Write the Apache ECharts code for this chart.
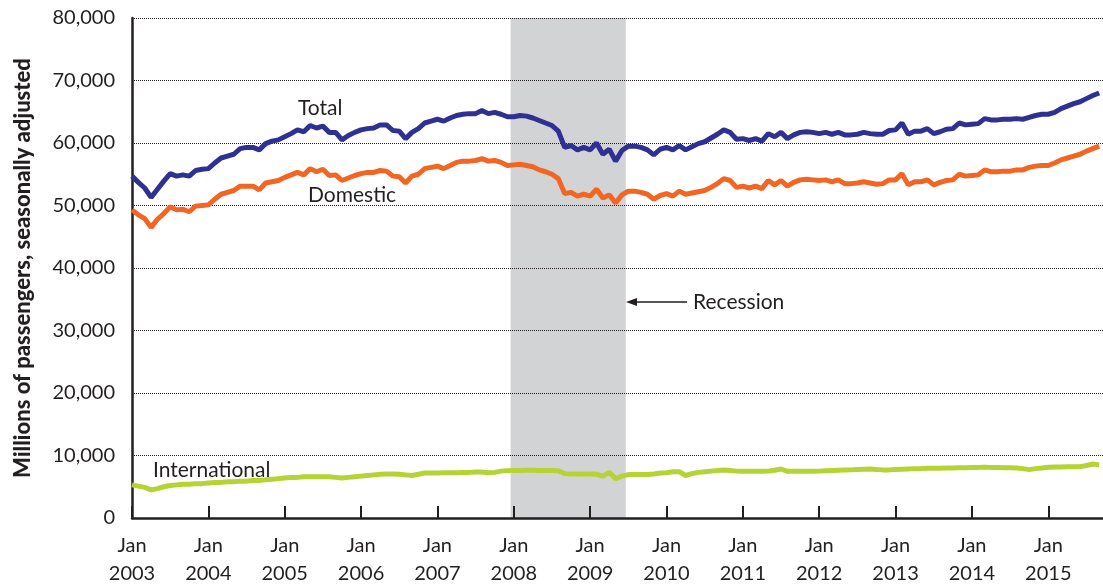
<!DOCTYPE html>
<html>
<head>
<meta charset="utf-8">
<script src="https://cdn.jsdelivr.net/npm/echarts@6/dist/echarts.min.js"></script>
<style>
  html, body { margin: 0; padding: 0; background: #fff; }
  #chart { width: 1103px; height: 588px; }
</style>
</head>
<body>
<div id="chart"></div>
<script>
// month index 0 = Jan 2003, one value per month (millions of passengers, SA)
var yearTicks = ['2003', '2004', '2005', '2006', '2007', '2008', '2009', '2010', '2011', '2012', '2013', '2014', '2015'];
var recession = [59.5, 77.6]; // Dec 2007 - Jun 2009

var total = [
  54700, 53700, 52800, 51300, 52600, 53900, 55100, 54700, 54900, 54700, 55600, 55800,
  55900, 56800, 57600, 57900, 58200, 59100, 59300, 59300, 58900, 59900, 60300, 60500,
  61000, 61500, 62100, 61800, 62800, 62400, 62700, 61700, 61700, 60500, 61200, 61700,
  62100, 62300, 62400, 62900, 62900, 62000, 61900, 60700, 61700, 62300, 63200, 63500,
  63800, 63500, 64000, 64400, 64600, 64700, 64700, 65200, 64700, 64900, 64600, 64200,
  64200, 64400, 64300, 64000, 63600, 63200, 62800, 61900, 59300, 59600, 58900, 59300,
  58900, 60000, 58200, 59000, 57100, 58800, 59500, 59500, 59300, 58900, 58100, 59000,
  59300, 58900, 59600, 58900, 59400, 59900, 60200, 60800, 61400, 62100, 61700, 60600,
  60700, 60400, 60700, 60300, 61500, 61000, 61700, 60700, 61300, 61700, 61800, 61700,
  61500, 61700, 61400, 61700, 61300, 61300, 61400, 61700, 61500, 61400, 61400, 62000,
  62100, 63200, 61400, 61900, 61900, 62300, 61500, 61800, 62200, 62300, 63200, 62900,
  63000, 63100, 63900, 63700, 63700, 63800, 63800, 63900, 63800, 64100, 64400, 64600,
  64600, 64900, 65500, 65900, 66300, 66600, 67100, 67600, 68000
];

var domestic = [
  49300, 48500, 47900, 46500, 47800, 48700, 49800, 49300, 49400, 49000, 49900, 50000,
  50100, 51000, 51800, 52100, 52400, 53100, 53100, 53100, 52500, 53600, 53800, 54000,
  54500, 54900, 55300, 54900, 55900, 55400, 55800, 54800, 54900, 54000, 54400, 54800,
  55100, 55300, 55300, 55600, 55500, 54700, 54600, 53600, 54700, 55000, 55900, 56100,
  56300, 55900, 56400, 56900, 57100, 57100, 57200, 57500, 57100, 57200, 56900, 56400,
  56500, 56600, 56400, 56200, 55700, 55400, 55000, 54300, 51900, 52100, 51500, 51800,
  51500, 52600, 51200, 51700, 50400, 51700, 52300, 52300, 52100, 51800, 51000, 51600,
  51900, 51500, 52300, 51800, 52000, 52200, 52400, 52900, 53500, 54300, 54000, 52900,
  53100, 52800, 53100, 52700, 54000, 53300, 54000, 53100, 53700, 54100, 54200, 54100,
  54000, 54100, 53800, 54100, 53500, 53500, 53600, 53800, 53600, 53400, 53500, 54100,
  54100, 55100, 53300, 53800, 53800, 54100, 53300, 53700, 54000, 54100, 55000, 54700,
  54800, 54900, 55700, 55400, 55400, 55500, 55500, 55700, 55700, 56100, 56300, 56400,
  56400, 56800, 57300, 57600, 57900, 58200, 58700, 59100, 59500
];

var international = [
  5300, 5100, 4900, 4500, 4700, 5000, 5200, 5300, 5400, 5400, 5500, 5500,
  5600, 5700, 5700, 5800, 5800, 5900, 5900, 6000, 6000, 6100, 6200, 6300,
  6400, 6500, 6500, 6600, 6600, 6600, 6600, 6600, 6500, 6400, 6500, 6600,
  6700, 6800, 6900, 7000, 7050, 7050, 7000, 6900, 6800, 7000, 7200, 7200,
  7200, 7250, 7250, 7250, 7300, 7300, 7350, 7350, 7250, 7300, 7500, 7580,
  7600, 7600, 7650, 7650, 7600, 7600, 7600, 7550, 7100, 7050, 7050, 7050,
  7050, 7000, 6700, 7300, 6300, 6700, 6950, 6950, 6950, 6950, 7050, 7200,
  7250, 7400, 7420, 6800, 7100, 7300, 7400, 7500, 7600, 7680, 7600, 7500,
  7470, 7470, 7470, 7470, 7500, 7650, 7840, 7470, 7470, 7470, 7470, 7470,
  7500, 7550, 7600, 7650, 7680, 7700, 7750, 7800, 7840, 7750, 7700, 7700,
  7750, 7800, 7850, 7900, 7900, 7950, 7950, 7950, 8000, 8000, 8050, 8050,
  8100, 8100, 8110, 8100, 8100, 8050, 8050, 8000, 7900, 7740, 7900, 8000,
  8110, 8150, 8150, 8200, 8200, 8220, 8400, 8640, 8500
];

function pairs(arr) {
  return arr.map(function (v, i) { return [i, v]; });
}

var ink = '#231f20';
var font = 'Lato';

var chart = echarts.init(document.getElementById('chart'));

function note(text, x, y) {
  return {
    type: 'text', x: x, y: y,
    style: { text: text, font: '21px ' + font, fill: ink, verticalAlign: 'middle' }
  };
}

var option = {
  animation: false,
  textStyle: { fontFamily: font, color: ink },
  grid: { left: 132, right: 0, top: 18, bottom: 67 },
  xAxis: {
    type: 'value',
    min: 0,
    max: 152.6,
    interval: 12,
    z: 2,
    axisLine: { lineStyle: { color: ink, width: 2.5 } },
    axisTick: { inside: true, length: 12, lineStyle: { color: ink, width: 2 } },
    splitLine: { show: false },
    axisLabel: {
      showMaxLabel: false,
      margin: 14,
      fontSize: 20,
      lineHeight: 28,
      color: ink,
      fontFamily: font,
      formatter: function (v) {
        var y = yearTicks[Math.round(v / 12)];
        return y ? 'Jan\n' + y : '';
      }
    }
  },
  yAxis: {
    type: 'value',
    min: 0,
    max: 80000,
    interval: 10000,
    z: 2,
    name: 'Millions of passengers, seasonally adjusted',
    nameLocation: 'middle',
    nameGap: 98,
    nameTextStyle: { fontSize: 22, fontWeight: 900, color: ink, fontFamily: font },
    axisLine: { show: true, lineStyle: { color: ink, width: 2.5 } },
    axisTick: { show: false },
    splitLine: { lineStyle: { color: ink, type: 'dotted', width: 1 } },
    axisLabel: {
      margin: 17,
      fontSize: 20,
      color: ink,
      fontFamily: font,
      formatter: function (v) { return v.toLocaleString('en-US'); }
    }
  },
  series: [
    {
      name: 'Total',
      type: 'line',
      z: 3,
      data: pairs(total),
      symbol: 'none',
      lineStyle: { color: '#2e3192', width: 5 },
      markArea: {
        silent: true,
        itemStyle: { color: '#d1d3d4' },
        data: [[{ xAxis: recession[0] }, { xAxis: recession[1] }]]
      }
    },
    {
      name: 'Domestic',
      type: 'line',
      z: 3,
      data: pairs(domestic),
      symbol: 'none',
      lineStyle: { color: '#f26522', width: 5 }
    },
    {
      name: 'International',
      type: 'line',
      z: 3,
      data: pairs(international),
      symbol: 'none',
      lineStyle: { color: '#b5d334', width: 5 }
    }
  ],
  graphic: [
    note('Total', 298, 108),
    note('Domestic', 308, 195),
    note('International', 153, 470),
    note('Recession', 693, 302),
    { type: 'line', shape: { x1: 634, y1: 302, x2: 687, y2: 302 }, style: { stroke: ink, lineWidth: 1.3 } },
    { type: 'polygon', shape: { points: [[626, 302], [637, 298], [637, 306]] }, style: { fill: ink } }
  ]
};

chart.setOption(option);
</script>
</body>
</html>
